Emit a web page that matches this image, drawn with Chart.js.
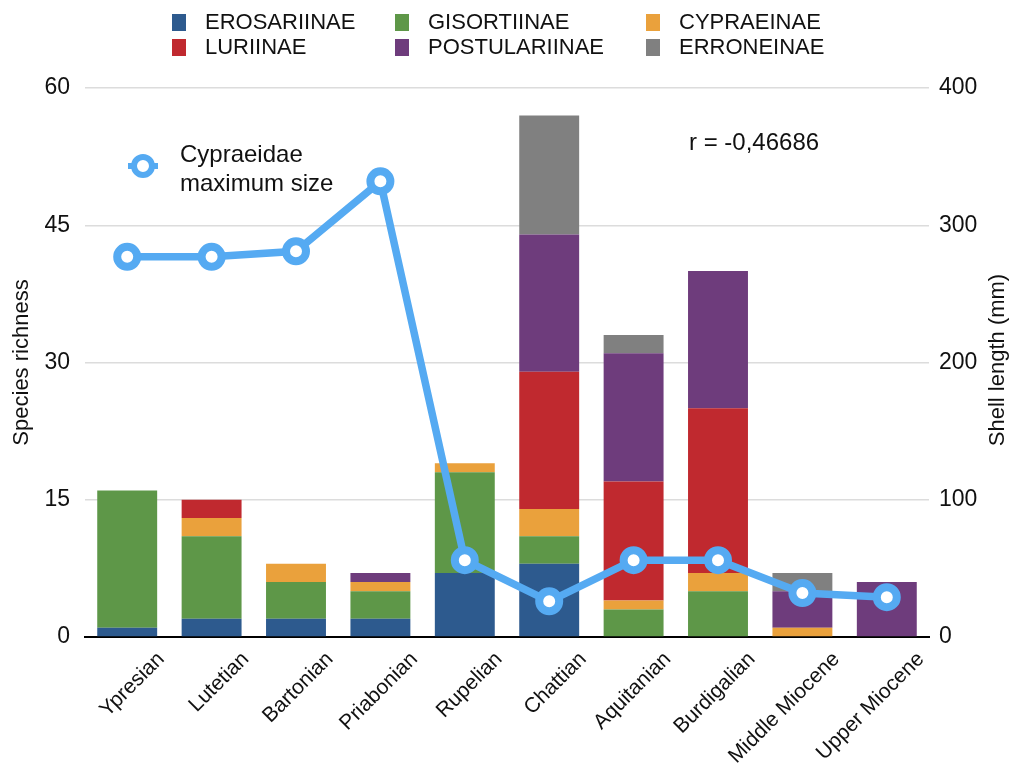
<!DOCTYPE html>
<html>
<head>
<meta charset="utf-8">
<script src="https://cdn.jsdelivr.net/npm/chart.js@4"></script>
<style>
  html, body { margin: 0; padding: 0; background: #fff; }
  #wrap { position: relative; width: 1018px; height: 773px; }
  #legend { position: absolute; left: 0; top: 0; width: 1018px; height: 70px; font-family: 'Liberation Sans', Arial, sans-serif; font-size: 22px; color: #111; }
  #legend .item { position: absolute; display: flex; align-items: center; white-space: nowrap; }
  #legend .box { width: 14px; height: 17px; margin-right: 19px; }
</style>
</head>
<body>
<div id="wrap">
  <canvas id="chart" width="1018" height="773"></canvas>
  <div id="legend"></div>
</div>
<script>
const categories = ['Ypresian', 'Lutetian', 'Bartonian', 'Priabonian', 'Rupelian', 'Chattian', 'Aquitanian', 'Burdigalian', 'Middle Miocene', 'Upper Miocene'];

const erosariinae   = [1, 2, 2, 2, 7, 8, 0, 0, 0, 0];
const gisortiinae   = [15, 9, 4, 3, 11, 3, 3, 5, 0, 0];
const cypraeinae    = [0, 2, 2, 1, 1, 3, 1, 2, 1, 0];
const luriinae      = [0, 2, 0, 0, 0, 15, 13, 18, 0, 0];
const postulariinae = [0, 0, 0, 1, 0, 15, 14, 15, 4, 6];
const erroneinae    = [0, 0, 0, 0, 0, 13, 2, 0, 2, 0];

// shell length, mm (right axis)
const maxSize = [277, 277, 281, 332, 56, 26, 56, 56, 32, 29];

const richnessTicks = [0, 15, 30, 45, 60];
const lengthTicks = [0, 100, 200, 300, 400];

const FONT = "'Liberation Sans', Arial, sans-serif";
const BLUE_LINE = '#55aaf2';

const bar = (label, data, color) => ({
  type: 'bar', label, data, backgroundColor: color, stack: 's',
  yAxisID: 'y', order: 1, borderWidth: 0,
  barPercentage: 0.71, categoryPercentage: 1
});

const extras = {
  id: 'extras',
  afterDraw(chart) {
    const { ctx } = chart;
    ctx.save();
    ctx.fillStyle = '#111';
    ctx.textBaseline = 'middle';
    // right axis title, reading bottom to top
    ctx.font = `22px ${FONT}`;
    ctx.textAlign = 'center';
    ctx.translate(998, 360);
    ctx.rotate(-Math.PI / 2);
    ctx.fillText('Shell length (mm)', 0, 0);
    ctx.restore();

    ctx.save();
    ctx.fillStyle = '#111';
    ctx.textBaseline = 'middle';
    ctx.textAlign = 'left';
    ctx.font = `24px ${FONT}`;
    ctx.fillText('r = -0,46686', 689, 143);
    ctx.fillText('Cypraeidae', 180, 155);
    ctx.fillText('maximum size', 180, 184);
    // line legend marker
    ctx.strokeStyle = BLUE_LINE;
    ctx.lineWidth = 6;
    ctx.beginPath(); ctx.moveTo(128, 166); ctx.lineTo(158, 166); ctx.stroke();
    ctx.beginPath(); ctx.arc(143, 166, 9, 0, Math.PI * 2);
    ctx.fillStyle = '#fff'; ctx.fill();
    ctx.lineWidth = 6; ctx.stroke();
    ctx.restore();
  }
};

const chart = new Chart(document.getElementById('chart'), {
  data: {
    labels: categories,
    datasets: [
      {
        type: 'line', label: 'Cypraeidae maximum size', data: maxSize, yAxisID: 'y1', order: 0,
        borderColor: BLUE_LINE, borderWidth: 7.5, tension: 0,
        pointRadius: 10, pointBorderWidth: 8, pointBackgroundColor: '#fff', pointBorderColor: BLUE_LINE
      },
      bar('EROSARIINAE', erosariinae, '#2d5a8e'),
      bar('GISORTIINAE', gisortiinae, '#5e9748'),
      bar('CYPRAEINAE', cypraeinae, '#eaa13c'),
      bar('LURIINAE', luriinae, '#c0292f'),
      bar('POSTULARIINAE', postulariinae, '#6e3c7c'),
      bar('ERRONEINAE', erroneinae, '#808080')
    ]
  },
  options: {
    responsive: false,
    animation: false,
    devicePixelRatio: 1,
    layout: { padding: { top: 88, left: 0, right: 0, bottom: 0 } },
    plugins: { legend: { display: false }, tooltip: { enabled: false } },
    scales: {
      x: {
        grid: { display: false },
        border: { color: '#000', width: 2 },
        ticks: { font: { family: FONT, size: 21 }, color: '#111', minRotation: 45, maxRotation: 45, padding: 2, labelOffset: 34 },
        afterFit(s) { s.height = 136; }
      },
      y: {
        position: 'left', stacked: true, min: 0, max: 60,
        afterBuildTicks(s) { s.ticks = richnessTicks.map(v => ({ value: v })); },
        grid: { color: '#dcdcdc', lineWidth: 1.5, drawTicks: false },
        border: { display: false },
        ticks: { font: { family: FONT, size: 23 }, color: '#111', padding: 15 },
        title: { display: true, text: 'Species richness', font: { family: FONT, size: 22 }, color: '#111', padding: { top: 9, bottom: 0 } },
        afterFit(s) { s.width = 85; }
      },
      y1: {
        position: 'right', min: 0, max: 400,
        afterBuildTicks(s) { s.ticks = lengthTicks.map(v => ({ value: v })); },
        grid: { display: false, drawTicks: false },
        border: { display: false },
        ticks: { font: { family: FONT, size: 23 }, color: '#111', padding: 10 },
        afterFit(s) { s.width = 89; }
      }
    }
  },
  plugins: [extras]
});

// html legend in a 3 x 2 grid, built from the bar datasets
const legendPos = [[172, 22], [395, 22], [646, 22], [172, 47], [395, 47], [646, 47]];
const legendEl = document.getElementById('legend');
chart.data.datasets.filter(d => d.type === 'bar').forEach((d, i) => {
  const [x, y] = legendPos[i];
  const item = document.createElement('div');
  item.className = 'item';
  item.style.left = x + 'px';
  item.style.top = (y - 12) + 'px';
  item.style.height = '24px';
  item.innerHTML = `<span class="box" style="background:${d.backgroundColor}"></span><span>${d.label}</span>`;
  legendEl.appendChild(item);
});
</script>
</body>
</html>
